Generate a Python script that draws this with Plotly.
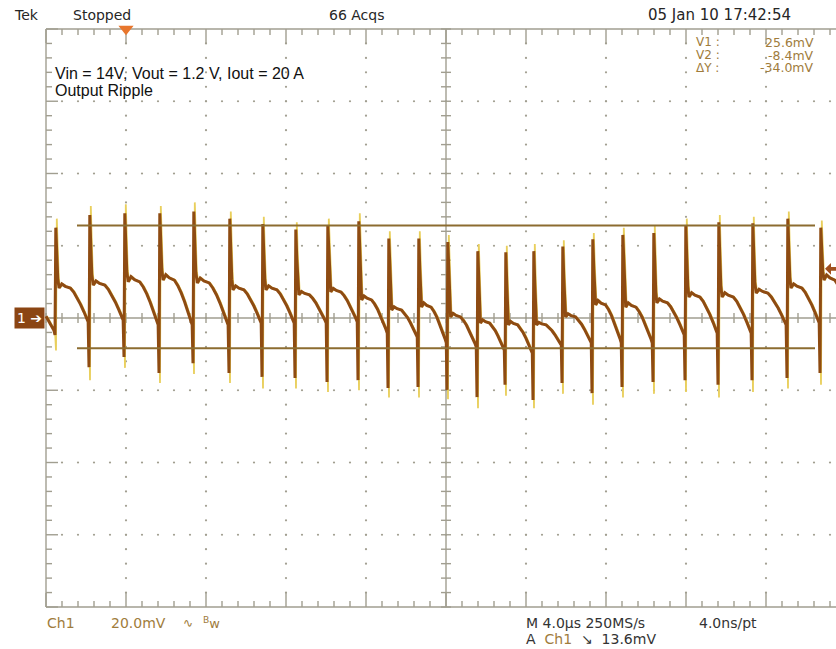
import plotly.graph_objects as go

# ---------------- data ----------------
# switching spikes: time of each spike (µs, trigger at 0)
spike_t_us = [-3.55, -1.85, -0.10, 1.65, 3.35, 5.15, 6.80, 8.45, 10.05, 11.60,
              13.10, 14.60, 16.05, 17.55, 18.95, 20.35, 21.80, 23.30, 24.80,
              26.35, 27.95, 29.60, 31.30, 33.05, 34.70]
# brown (latest acquisition) levels, mV
peak_mV = [25.0, 28.5, 29.0, 29.0, 29.5, 27.5, 26.0, 24.5, 25.5, 26.8,
           22.0, 22.0, 21.0, 18.5, 18.2, 18.5, 19.8, 21.8, 23.0,
           23.5, 25.5, 26.5, 26.2, 27.5, 25.0]
dip_mV = [-4.7, -13.6, -10.8, -15.2, -12.5, -15.2, -16.3, -16.6, -17.7, -17.2,
          -19.4, -19.1, -19.9, -21.9, -18.5, -22.7, -18.0, -20.8, -19.1,
          -17.7, -17.2, -18.5, -17.2, -16.6, -15.2]
plateau_mV = [8.3, 9.1, 10.0, 10.5, 9.7, 7.8, 7.8, 6.4, 7.2, 5.0,
              2.2, 3.0, 0.3, -1.4, -1.9, -1.9, 0.3, 3.6, 3.0,
              4.2, 5.8, 5.8, 6.9, 8.3, 10.5]
end_mV = [-1.1, -0.6, -1.9, -1.9, -1.9, -1.4, -1.4, -1.4, -1.1, -4.2,
          -5.3, -6.9, -8.0, -8.9, -9.7, -7.5, -6.9, -6.9, -6.9,
          -4.7, -4.2, -4.2, -1.9, -1.4, -1.4]
# yellow persistence envelope extremes, mV
persist_peak_mV = [27.5, 31.0, 31.5, 31.0, 32.0, 29.5, 28.0, 26.5, 27.5, 29.0,
                   24.0, 24.0, 23.0, 20.5, 20.0, 20.5, 21.5, 23.5, 25.0,
                   25.5, 27.5, 28.5, 28.0, 29.5, 27.0]
persist_dip_mV = [-9.0, -17.2, -13.8, -18.0, -15.5, -18.0, -19.5, -19.5, -20.5, -20.0,
                  -22.0, -22.0, -22.5, -25.0, -21.5, -25.0, -21.0, -24.0, -22.0,
                  -21.0, -20.5, -22.0, -20.5, -19.5, -18.5]
# waveform at the left screen edge before the first spike (µs, mV)
lead_t_us = [-4.0, -3.75, -3.60]
lead_mV = [0.5, -2.0, -3.5]
# shape of one cycle after the ringing: phase of period, fraction plateau->end
cycle_phase = [0.12, 0.20, 0.30, 0.45, 0.55, 0.65, 0.75, 0.85, 0.93, 0.975]
cycle_frac = [0.0, -0.12, -0.05, 0.0, 0.12, 0.28, 0.48, 0.70, 0.88, 1.0]
# fast fall right after the peak (µs after spike, fraction peak->plateau kept)
fall_dt_us = [0.04, 0.09, 0.14]
fall_keep = [1.0, 0.55, 0.15]

# cursors / readouts
cursor_v1_mV = 25.6
cursor_v2_mV = -8.4
trigger_level_mV = 13.6
trigger_t_us = 0.0

# screen geometry (Tek: 10 x 8 divisions)
t_div_us = 4.0
v_div_mV = 20.0
screen_left_us = -4.0
screen_right_us = 36.0

GRID = "#A19E90"
CURSOR = "#8C6C30"
BROWN = "#8E4B12"
YELLOW = "#E9CF5C"
ORANGE = "#E8762D"
TAN = "#A07C3C"
DARK = "#262626"


def build(peaks, dips, shift=0.0):
    xs = [t + shift for t in lead_t_us]
    ys = list(lead_mV)
    n = len(spike_t_us)
    for k in range(n):
        ts = spike_t_us[k]
        T = spike_t_us[k + 1] - ts if k + 1 < n else spike_t_us[k] - spike_t_us[k - 1]
        P, E, Pk = plateau_mV[k], end_mV[k], peaks[k]
        xs.append(ts + shift); ys.append(dips[k])
        for dt, keep in zip(fall_dt_us, fall_keep):
            xs.append(ts + dt + shift); ys.append(P + keep * (Pk - P))
        for ph, fr in zip(cycle_phase, cycle_frac):
            xs.append(ts + ph * T + shift); ys.append(P + fr * (E - P))
    return xs, ys


fig = go.Figure()

# ---- graticule ----
def segs(pairs):
    xs, ys = [], []
    for (x0, y0, x1, y1) in pairs:
        xs += [x0, x1, None]; ys += [y0, y1, None]
    return xs, ys

lines = []
lines.append((screen_left_us, -4 * v_div_mV, screen_left_us, 4 * v_div_mV))
lines.append((screen_left_us, 4 * v_div_mV, screen_right_us, 4 * v_div_mV))
lines.append((screen_left_us, -4 * v_div_mV, screen_right_us, -4 * v_div_mV))
t_mid = (screen_left_us + screen_right_us) / 2
lines.append((screen_left_us, 0, screen_right_us, 0))
lines.append((t_mid, -4 * v_div_mV, t_mid, 4 * v_div_mV))
px_t = t_div_us / 80.0      # µs per pixel
px_v = v_div_mV / 72.25     # mV per pixel
i = 0
while True:
    t = screen_left_us + i * t_div_us / 5
    if t > screen_right_us:
        break
    major = (i % 5 == 0)
    Lk = (14 if major else 6) * px_v
    lines.append((t, 4 * v_div_mV, t, 4 * v_div_mV - Lk))
    lines.append((t, -4 * v_div_mV, t, -4 * v_div_mV + Lk))
    lines.append((t, -5 * px_v, t, 5 * px_v))
    i += 1
for j in range(41):
    v = -4 * v_div_mV + j * v_div_mV / 5
    major = (j % 5 == 0)
    Lk = (12 if major else 6) * px_t
    lines.append((screen_left_us, v, screen_left_us + Lk, v))
    lines.append((t_mid - 5 * px_t, v, t_mid + 5 * px_t, v))
gx, gy = segs(lines)
fig.add_trace(go.Scatter(x=gx, y=gy, mode="lines", line=dict(color=GRID, width=1.4),
                         hoverinfo="skip", showlegend=False))

dx, dy = [], []
for k in range(1, 10):
    t = screen_left_us + k * t_div_us
    if k == 5:
        continue
    for j in range(1, 40):
        dx.append(t); dy.append(-4 * v_div_mV + j * v_div_mV / 5)
for m in range(1, 8):
    if m == 4:
        continue
    v = -4 * v_div_mV + m * v_div_mV
    i = 1
    while screen_left_us + i * t_div_us / 5 < 35.5:
        dx.append(screen_left_us + i * t_div_us / 5); dy.append(v)
        i += 1
fig.add_trace(go.Scatter(x=dx, y=dy, mode="markers",
                         marker=dict(color=GRID, size=2.2, line=dict(width=0)),
                         hoverinfo="skip", showlegend=False))

# ---- waveform ----
yx, yy = build(persist_peak_mV, persist_dip_mV, shift=0.05)
fig.add_trace(go.Scatter(x=yx, y=yy, mode="lines", line=dict(color=YELLOW, width=1.8),
                         hoverinfo="skip", showlegend=False))
bx, by = build(peak_mV, dip_mV)
fig.add_trace(go.Scatter(x=bx, y=by, mode="lines", line=dict(color=BROWN, width=3),
                         hoverinfo="skip", showlegend=False))

# ---- cursors ----
cur_x0, cur_x1 = -2.45, 34.45
for v in (cursor_v1_mV, cursor_v2_mV):
    fig.add_trace(go.Scatter(x=[cur_x0, cur_x1], y=[v, v], mode="lines",
                             line=dict(color=CURSOR, width=2),
                             hoverinfo="skip", showlegend=False))

# ---- layout ----
L, T, W, H = 40, 24, 796, 588


def pxx(x):
    return (x - L) / W


def pxy(y):
    return 1 - (y - T) / H


ann = []
SF = "DejaVu Sans"


def txt(x, y, s, color=DARK, size=14, anchor="left", family=SF):
    ann.append(dict(x=pxx(x), y=pxy(y), xref="paper", yref="paper", text=s,
                    showarrow=False, xanchor=anchor, yanchor="middle",
                    font=dict(family=family, size=size, color=color)))


txt(12, 15, "Tek")
txt(71, 15, "Stopped")
txt(327, 15, "66 Acqs")
txt(646, 15, "05 Jan 10 17:42:54", size=15)
txt(694, 42, "V1 :", TAN, 12)
txt(694, 55, "V2 :", TAN, 12)
txt(694, 68, "ΔY :", TAN, 12)
txt(816, 42, f"{cursor_v1_mV:.1f}mV", TAN, 12.5, "right")
txt(816, 55, f"{cursor_v2_mV:.1f}mV", TAN, 12.5, "right")
txt(816, 68, f"{cursor_v2_mV - cursor_v1_mV:.1f}mV", TAN, 12.5, "right")
txt(45, 623, "Ch1", TAN)
txt(109, 623, "20.0mV", TAN)
txt(181, 623, "∿", TAN, 12)
txt(201, 623, "<sup>B</sup>w", TAN, 13)
txt(524, 623, "M 4.0µs 250MS/s", "#333333")
txt(697, 623, "4.0ns/pt", "#333333")
txt(524, 639, f"A  <span style='color:{TAN}'>Ch1</span>  ↘  {trigger_level_mV:.1f}mV", "#333333")
txt(53, 73, "Vin = 14V, Vout = 1.2 V, Iout = 20 A", "#111111", 16, family="Liberation Sans")
txt(53, 91, "Output Ripple", "#111111", 16, family="Liberation Sans")

ann.append(dict(x=screen_left_us, y=0, xref="x", yref="y", text="1 ➔", showarrow=False,
                xanchor="right", yanchor="middle", xshift=-1,
                font=dict(family=SF, size=14, color="white"),
                bgcolor="#8B4513", borderpad=2))

shapes = [
    dict(type="path", xref="x", yref="y",
         path=f"M {trigger_t_us - 0.38},{80.9} L {trigger_t_us + 0.38},{80.9} L {trigger_t_us},{78.3} Z",
         fillcolor=ORANGE, line=dict(width=0)),
    dict(type="path", xref="x", yref="y",
         path=(f"M 34.95,{trigger_level_mV} L 35.25,{trigger_level_mV + 1.6} "
               f"L 35.25,{trigger_level_mV + 0.5} L 35.5,{trigger_level_mV + 0.5} "
               f"L 35.5,{trigger_level_mV - 0.5} L 35.25,{trigger_level_mV - 0.5} "
               f"L 35.25,{trigger_level_mV - 1.6} Z"),
         fillcolor="#A0501E", line=dict(width=0)),
]

fig.update_layout(
    width=836, height=649, autosize=False,
    margin=dict(l=L, r=836 - L - W, t=T, b=649 - T - H, pad=0),
    paper_bgcolor="white", plot_bgcolor="white",
    xaxis=dict(range=[-4.3, 35.5], visible=False, fixedrange=True),
    yaxis=dict(range=[-81.38, 81.38], visible=False, fixedrange=True),
    annotations=ann, shapes=shapes, showlegend=False,
)

fig.write_html("out.html", config={"displayModeBar": False, "staticPlot": True},
               post_script="document.body.style.margin='0';document.body.style.overflow='hidden';")
